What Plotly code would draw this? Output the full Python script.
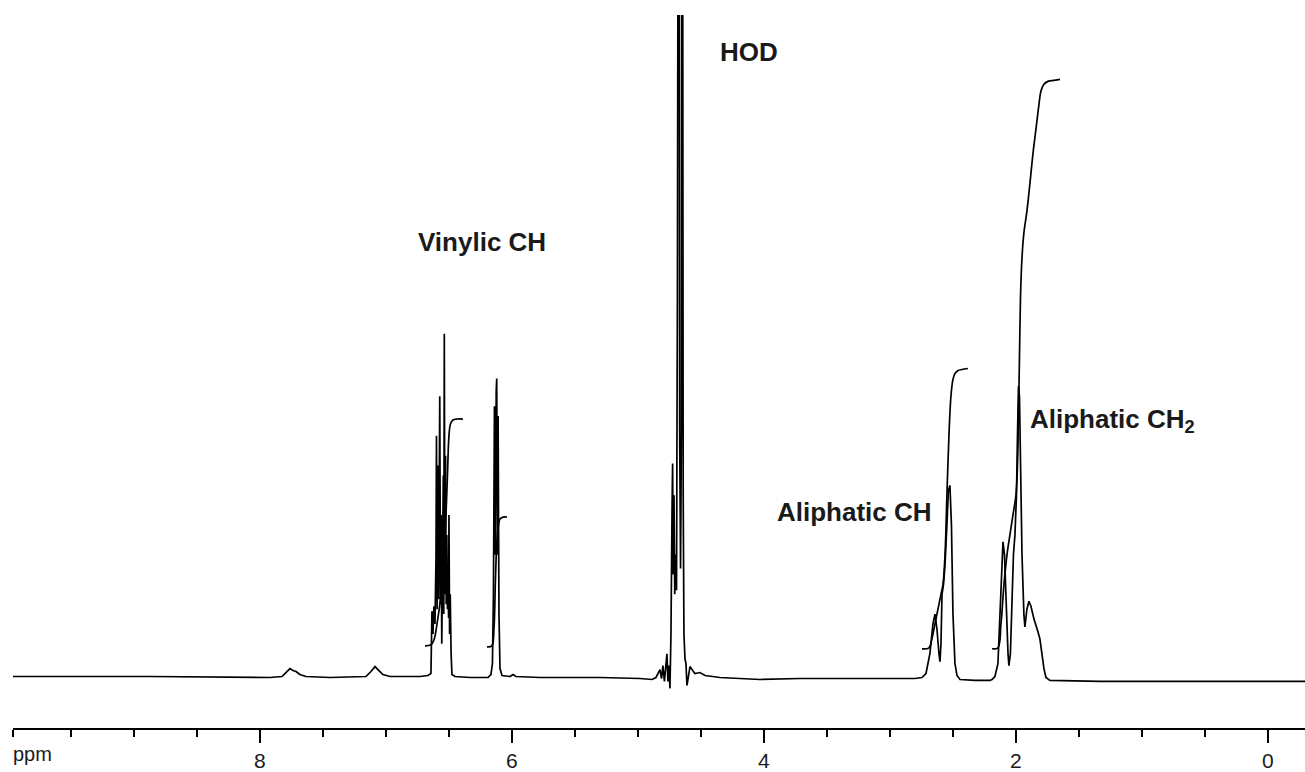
import plotly.graph_objects as go

# ---------------- data ----------------
# 1H NMR trace: chemical shift (ppm) and intensity (arbitrary units)
spec_ppm = [9.960, 8.873, 7.921, 7.825, 7.786, 7.762, 7.738, 7.714, 7.683, 7.635, 7.444,
            7.159, 7.119, 7.087, 7.056, 7.024, 6.968, 6.730, 6.667, 6.643, 6.635, 6.627,
            6.619, 6.611, 6.603, 6.599, 6.594, 6.590, 6.587, 6.582, 6.577, 6.573, 6.567,
            6.562, 6.557, 6.552, 6.548, 6.545, 6.541, 6.537, 6.532, 6.527, 6.522, 6.517,
            6.512, 6.506, 6.503, 6.500, 6.495, 6.490, 6.483, 6.476, 6.452, 6.333, 6.190,
            6.167, 6.155, 6.147, 6.139, 6.133, 6.125, 6.121, 6.115, 6.110, 6.103, 6.095,
            6.079, 6.016, 5.992, 5.968, 5.778,
            5.302, 4.984, 4.889, 4.857, 4.825, 4.813, 4.802, 4.790, 4.778, 4.770, 4.762,
            4.754, 4.746, 4.738, 4.730, 4.725, 4.720, 4.714, 4.708, 4.702, 4.694, 4.687,
            4.677, 4.674, 4.669, 4.662, 4.655, 4.651, 4.648, 4.641,
            4.635, 4.627, 4.619, 4.611, 4.599, 4.587, 4.571,
            4.548, 4.508, 4.468, 4.349, 4.032, 3.714, 3.079, 2.802, 2.746, 2.714, 2.683,
            2.659, 2.643, 2.627, 2.611, 2.603, 2.595, 2.587, 2.575, 2.563, 2.548, 2.536,
            2.524, 2.512, 2.500, 2.484, 2.468, 2.444, 2.325, 2.206, 2.190, 2.167, 2.143,
            2.127, 2.111, 2.103, 2.091, 2.079, 2.063, 2.056, 2.044, 2.032, 2.020, 2.008,
            1.996, 1.988, 1.980, 1.972, 1.964, 1.952, 1.937, 1.929, 1.913, 1.897, 1.881,
            1.857, 1.825, 1.810, 1.794, 1.778, 1.762, 1.730, 1.333, 0.540, -0.294]
spec_int = [1, 1, 0, 1, 6, 9, 7, 6, 3, 1, 0,
            1, 6, 11, 7, 3, 1, 1, 2, 4, 67, 44,
            72, 54, 120, 244, 69, 190, 214, 79, 150, 284, 74,
            164, 34, 84, 140, 204, 64, 347, 84, 224, 74, 144,
            69, 104, 60, 164, 44, 84, 24, 3, 1, 0, 0,
            3, 14, 84, 274, 124, 289, 302, 124, 264, 64, 9,
            2, 1, 3, 1, 0,
            0, -1, -2, 0, 8, -1, 12, -4, 16, 24, -4,
            12, -11, 44, 164, 216, 104, 184, 84, 124, 88, 384,
            1200, 1200, 250, 110, 250, 1200, 1200, 184,
            44, 19, 14, -8, 4, 11, 8,
            4, 5, 2, 0, -2, -1, -1, -1, 0, 4, 24,
            54, 64, 49, 24, 16, 34, 84, 94, 114, 154, 189,
            194, 154, 64, 14, 2, -2, -3, -3, -2, 1, 14,
            64, 124, 137, 124, 74, 24, 12, 24, 74, 124, 144,
            184, 244, 294, 284, 204, 124, 64, 51, 69, 77, 72,
            59, 46, 39, 24, 9, 0, -3, -4, -4, -4]

# integral curves (ppm, running integral in same units)
int1_ppm = [6.690, 6.643, 6.619, 6.595, 6.563, 6.540, 6.524, 6.512, 6.500, 6.488, 6.468, 6.437, 6.389]
int1_val = [32, 33, 38, 54, 84, 124, 164, 204, 244, 256, 260, 261, 261]
int2_ppm = [6.198, 6.159, 6.143, 6.131, 6.119, 6.107, 6.095, 6.071, 6.040]
int2_val = [31, 32, 49, 99, 139, 154, 160, 162, 162]
int3_ppm = [2.746, 2.690, 2.667, 2.643, 2.619, 2.595, 2.579, 2.563, 2.548, 2.532, 2.516,
            2.500, 2.484, 2.460, 2.429, 2.381]
int3_val = [29, 30, 39, 54, 69, 84, 94, 124, 184, 244, 284, 301, 307, 310, 311, 312]
int4_ppm = [2.190, 2.143, 2.119, 2.095, 2.071, 2.048, 2.024, 2.000, 1.988, 1.980, 1.972,
            1.964, 1.952, 1.937, 1.913, 1.889, 1.865, 1.841, 1.817, 1.802, 1.778, 1.746,
            1.698, 1.651]
int4_val = [29, 30, 54, 94, 124, 144, 164, 184, 214, 264, 324, 384, 424, 449, 471, 499,
            529, 554, 579, 592, 599, 602, 603, 604]

# peak labels
label_text = ["HOD", "Vinylic CH", "Aliphatic CH", "Aliphatic CH<sub>2</sub>"]
label_ppm = [4.119, 6.238, 3.278, 1.905]
label_int = [632, 440, 167, 260]
label_anchor = ["center", "center", "center", "left"]

# axis ticks
tick_vals = [8, 6, 4, 2, 0]
tick_text = ["8", "6", "4", "2", "0"]
minor_vals = [9.96, 9.5, 9.0, 8.5, 7.5, 7.0, 6.5, 5.5, 5.0, 4.5, 3.5, 3.0, 2.5, 1.5, 1.0, 0.5]

# ---------------- figure ----------------
line_style = dict(color="black", width=1.7)
fig = go.Figure()
fig.add_trace(go.Scatter(x=spec_ppm, y=spec_int, mode="lines", line=line_style,
                         hoverinfo="skip", showlegend=False))
for xs, ys in [(int1_ppm, int1_val), (int2_ppm, int2_val),
               (int3_ppm, int3_val), (int4_ppm, int4_val)]:
    fig.add_trace(go.Scatter(x=xs, y=ys, mode="lines", line=line_style,
                             line_shape="spline", hoverinfo="skip", showlegend=False))

for t, xp, yp, anc in zip(label_text, label_ppm, label_int, label_anchor):
    fig.add_annotation(x=xp, y=yp, text=t, showarrow=False, xanchor=anc, yanchor="middle",
                       font=dict(family="Liberation Sans, Arial, sans-serif", size=26,
                                 color="#1a1a1a", weight="bold"))

fig.add_annotation(x=0, y=0, xref="paper", yref="paper", text="ppm", showarrow=False,
                   xanchor="left", yanchor="top", yshift=-13, xshift=-2,
                   font=dict(family="Liberation Sans, Arial, sans-serif", size=20,
                             color="#1a1a1a"))

fig.update_layout(
    width=1305, height=772,
    margin=dict(l=13, r=0, t=15, b=37),
    paper_bgcolor="white", plot_bgcolor="white",
    font=dict(family="Liberation Sans, Arial, sans-serif", color="#1a1a1a"),
    xaxis=dict(range=[9.96, -0.294], showgrid=False, zeroline=False,
               showline=True, linecolor="black", linewidth=2,
               ticks="outside", ticklen=13, tickwidth=2, tickcolor="black",
               tickmode="array", tickvals=tick_vals, ticktext=tick_text,
               tickfont=dict(size=21, color="#1a1a1a"),
               minor=dict(tickmode="array", tickvals=minor_vals, ticklen=7,
                          tickwidth=2, tickcolor="black", ticks="outside",
                          showgrid=False)),
    yaxis=dict(range=[-51, 669], visible=False, showgrid=False, zeroline=False),
)

fig.write_html("out.html")
